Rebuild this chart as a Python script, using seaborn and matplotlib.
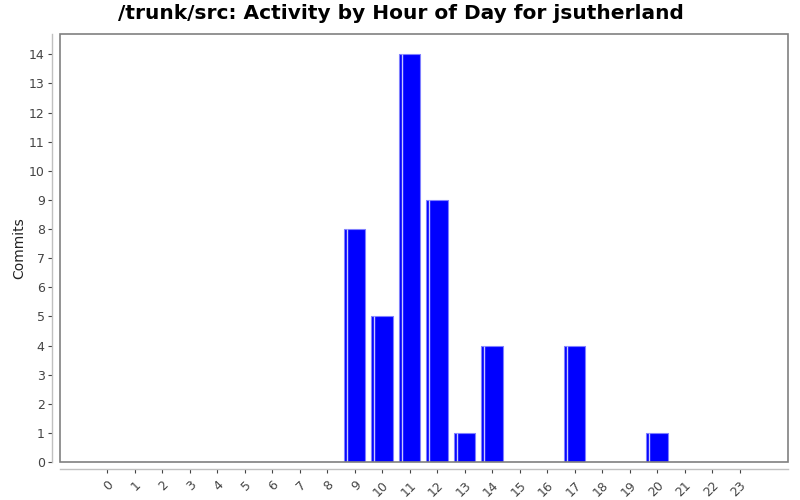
import pandas as pd
import seaborn as sns
import matplotlib.pyplot as plt
from matplotlib.patches import Rectangle

# --- Data ---
HOURS = [str(h) for h in range(24)]
COMMITS = [0, 0, 0, 0, 0, 0, 0, 0, 0, 8, 5, 14, 9, 1, 4, 0, 0, 4, 0, 0, 1, 0, 0, 0]
TITLE = '/trunk/src: Activity by Hour of Day for jsutherland'
Y_LABEL = 'Commits'

sns.set_style('white')
plt.rcParams['font.family'] = ['DejaVu Sans']

df = pd.DataFrame({'hour': HOURS, 'commits': COMMITS})

fig = plt.figure(figsize=(8, 5), dpi=100)
ax = fig.add_axes([0.075, 0.076, 0.91, 0.856])

sns.barplot(data=df, x='hour', y='commits', order=HOURS, color='#0000ff',
            saturation=1, width=0.78, edgecolor='#8080ff', linewidth=0.8, ax=ax)

# light highlight stripe near the left edge of each bar
for p in ax.patches:
    if p.get_height() > 0:
        w = p.get_width()
        ax.plot([p.get_x() + w * 0.14] * 2, [0, p.get_height()],
                color='#c8c8ff', lw=1.0, solid_capstyle='butt', zorder=3)

ax.set_xlim(-1.71, 24.76)
ax.set_ylim(0, 14.7)
ax.set_yticks(range(15))

ax.set_xlabel('')
ax.set_ylabel(Y_LABEL, fontsize=10, color='#222222')
ax.yaxis.set_label_coords(-0.047, 0.5)
ax.set_title(TITLE, fontsize=14.5, fontweight='bold', color='black', pad=11, x=0.468)

ax.tick_params(axis='both', labelsize=9, colors='#444444', length=3, width=0.8,
               direction='out', left=True, bottom=True)
ax.tick_params(axis='x', pad=4, labelrotation=45)
ax.tick_params(axis='y', pad=2)

# offset axis lines like the original
for side in ['top', 'right']:
    ax.spines[side].set_visible(False)
ax.spines['left'].set_position(('outward', 6))
ax.spines['bottom'].set_position(('outward', 5))
for side in ['left', 'bottom']:
    ax.spines[side].set_color('#c0c0c0')
    ax.spines[side].set_linewidth(1.0)

# plot area border
ax.add_patch(Rectangle((0, 0), 1, 1, transform=ax.transAxes, fill=False,
                       edgecolor='#808080', linewidth=1.2, clip_on=False, zorder=5))

plt.setp(ax.get_xticklabels(), ha='right', va='top', rotation_mode='anchor')

fig.savefig('out.png', dpi=100)
